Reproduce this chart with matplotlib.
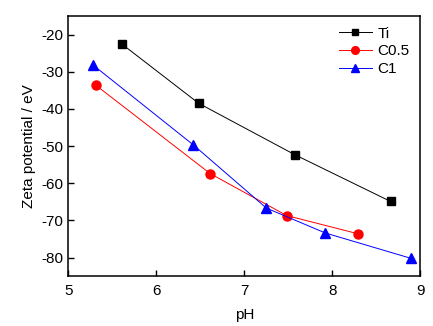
import matplotlib
matplotlib.use('Agg')
import matplotlib.pyplot as plt

plt.rcParams['font.family'] = ['Liberation Sans', 'DejaVu Sans']
plt.rcParams['axes.unicode_minus'] = False

# data
ti_ph = [5.61, 6.48, 7.57, 8.66]
ti_zeta = [-22.6, -38.5, -52.3, -64.9]

c05_ph = [5.31, 6.61, 7.48, 8.29]
c05_zeta = [-33.6, -57.4, -68.7, -73.6]

c1_ph = [5.28, 6.42, 7.25, 7.92, 8.89]
c1_zeta = [-28.2, -49.7, -66.7, -73.4, -80.2]

fig = plt.figure(figsize=(4.33, 3.26), dpi=100)
ax = fig.add_axes([0.158, 0.153, 0.813, 0.798])

ax.plot(ti_ph, ti_zeta, color='black', lw=0.7, marker='s', ms=5.5, label='Ti')
ax.plot(c05_ph, c05_zeta, color='red', lw=0.7, marker='o', ms=6.5, label='C0.5')
ax.plot(c1_ph, c1_zeta, color='blue', lw=0.7, marker='^', ms=7, label='C1')

ax.set_xlim(5, 9)
ax.set_ylim(-85, -15)
ax.set_xticks([5, 6, 7, 8, 9])
ax.set_yticks([-20, -30, -40, -50, -60, -70, -80])
ax.tick_params(direction='in', length=4, width=1, labelsize=11, top=False, right=False)
ax.tick_params(axis='x', pad=6)
for s in ax.spines.values():
    s.set_linewidth(1.1)

ax.set_xlabel('pH', fontsize=11, labelpad=7)
ax.set_ylabel('Zeta potential / eV', fontsize=11)

ax.legend(loc='upper right', frameon=False, fontsize=11, handlelength=2.2,
          handletextpad=0.35, labelspacing=0.25, markerscale=0.85,
          borderaxespad=0.3)

fig.savefig('out.png', dpi=100)
